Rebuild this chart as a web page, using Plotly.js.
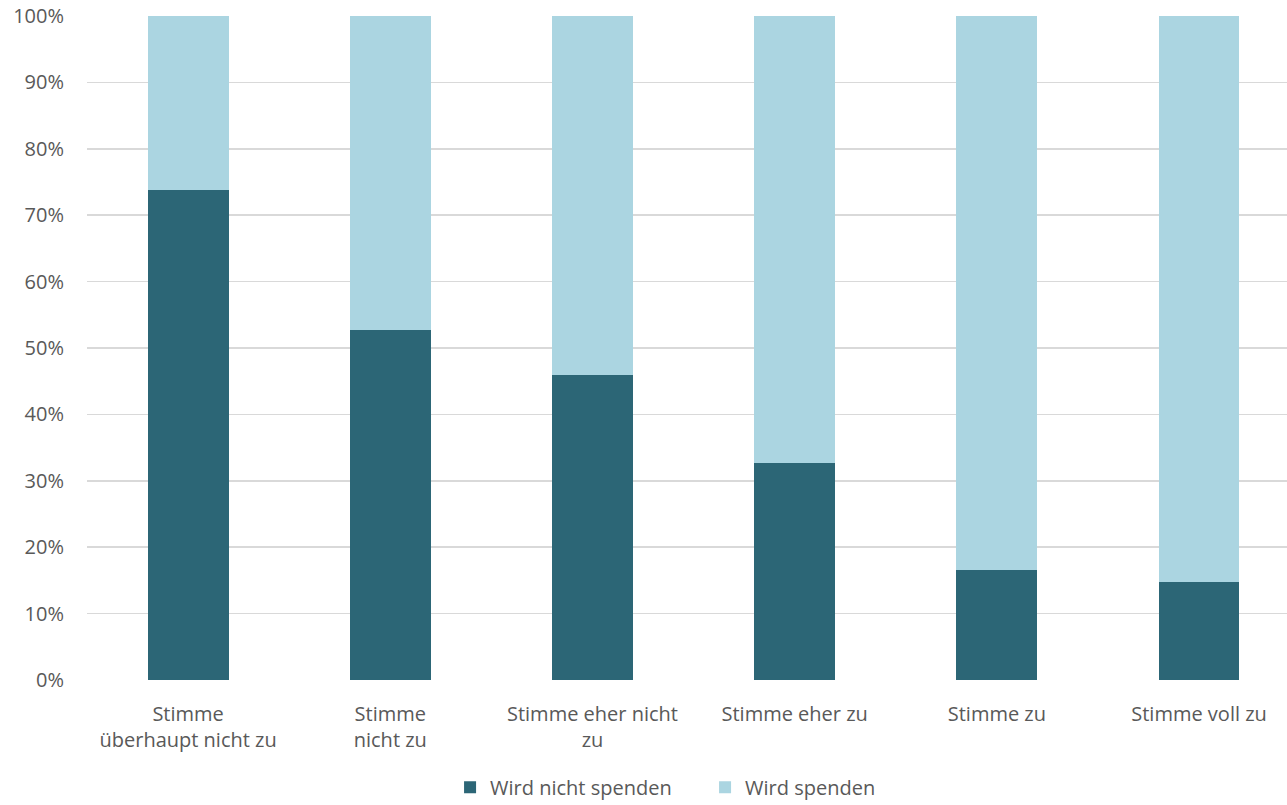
<!DOCTYPE html>
<html><head><meta charset="utf-8">
<script src="https://cdn.plot.ly/plotly-3.0.1.min.js"></script>
<style>html,body{margin:0;padding:0;overflow:hidden;background:#fff;}</style>
</head><body>
<div id="chart" style="width:1287px;height:805px;"></div>
<script>
var categories = ["Stimme<br>überhaupt nicht zu", "Stimme<br>nicht zu", "Stimme eher nicht<br>zu", "Stimme eher zu", "Stimme zu", "Stimme voll zu"];
var wirdNichtSpenden = [73.8, 52.7, 46.0, 32.7, 16.6, 14.8];
var wirdSpenden = [26.2, 47.3, 54.0, 67.3, 83.4, 85.2];
var seriesNames = ["Wird nicht spenden", "Wird spenden"];
var yTickVals = [0,10,20,30,40,50,60,70,80,90,100];
var yTickText = ["0%","10%","20%","30%","40%","50%","60%","70%","80%","90%","100%"];

var fontFam = "'Open Sans', Lato, sans-serif";
var data = [
  {type:"bar", name: seriesNames[0], x: categories, y: wirdNichtSpenden, marker:{color:"#2C6676"}, hoverinfo:"none"},
  {type:"bar", name: seriesNames[1], x: categories, y: wirdSpenden, marker:{color:"#ABD5E1"}, hoverinfo:"none"}
];
var layout = {
  width: 1287, height: 805,
  barmode: "stack", bargap: 0.6,
  margin: {l: 87, r: 0, t: 16, b: 125},
  paper_bgcolor: "#fff", plot_bgcolor: "#fff",
  font: {family: fontFam, size: 20, color: "#595959"},
  xaxis: {type:"category", range:[-0.5, 5.435], showgrid:false, zeroline:false, showline:false, ticks:"", ticklabelstandoff:20, tickfont:{size:20, color:"#595959"}, automargin:false},
  yaxis: {range:[0,100], tickvals: yTickVals, ticktext: yTickText, showgrid:true, gridcolor:"#D9D9D9", gridwidth:1.5, zeroline:false, showline:false, ticks:"", ticklabelstandoff:22, tickfont:{size:20, color:"#595959"}, automargin:false},
  showlegend: true,
  legend: {orientation:"h", xref:"container", yref:"container", x:0.3497, xanchor:"left", y:0.022, yanchor:"middle", font:{size:20, color:"#595959"}, traceorder:"normal", itemwidth:30, entrywidth:210, entrywidthmode:"pixels"},
};
Plotly.newPlot("chart", data, layout, {displayModeBar:false, staticPlot:true});
</script>
</body></html>
